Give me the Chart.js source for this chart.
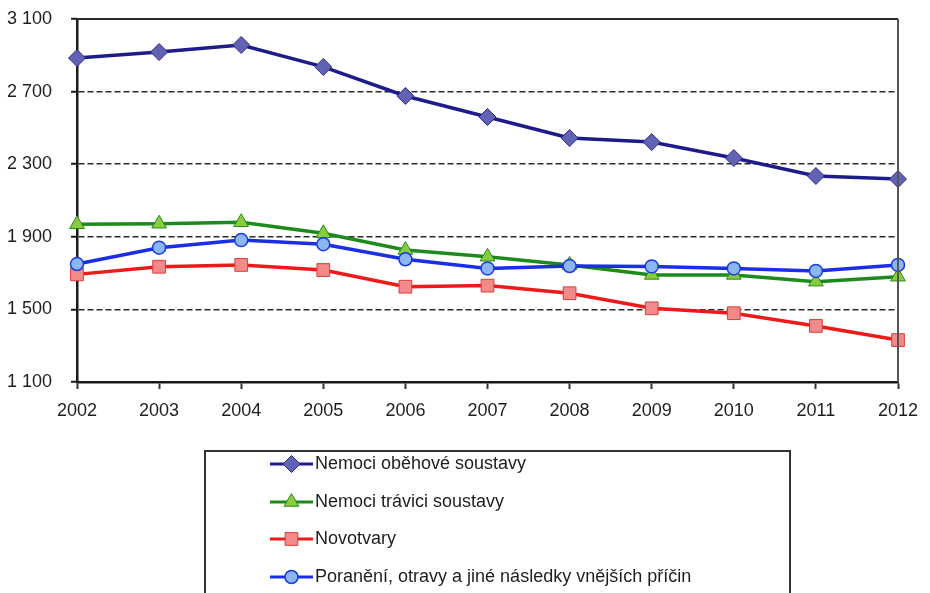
<!DOCTYPE html>
<html lang="cs">
<head>
<meta charset="utf-8">
<title>Zemřelí podle skupin příčin smrti 2002–2012</title>
<script src="https://cdn.jsdelivr.net/npm/chart.js@4/dist/chart.umd.min.js"></script>
<style>
  html, body { margin: 0; padding: 0; background: #ffffff; }
  #wrap { width: 930px; height: 593px; position: relative; }
</style>
</head>
<body>
<div id="wrap"><canvas id="chart" width="930" height="593"></canvas></div>
<script>
// Roky
const years = ['2002', '2003', '2004', '2005', '2006', '2007', '2008', '2009', '2010', '2011', '2012'];

// Počty zemřelých podle skupin příčin
const circulatory = [2885, 2918, 2957, 2836, 2676, 2560, 2444, 2422, 2334, 2235, 2218];
const digestive   = [1969, 1972, 1980, 1919, 1827, 1790, 1745, 1690, 1690, 1653, 1680];
const neoplasms   = [1693, 1735, 1745, 1717, 1625, 1631, 1589, 1506, 1479, 1409, 1331];
const injuries    = [1750, 1840, 1882, 1859, 1776, 1726, 1739, 1737, 1726, 1712, 1745];

// Názvy řad
const seriesNames = [
  'Nemoci oběhové soustavy',
  'Nemoci trávici soustavy',
  'Novotvary',
  'Poranění, otravy a jiné následky vnějších příčin'
];

// Osa Y
const yMin = 1100;
const yMax = 3100;
const yStep = 400;

const FONT = '"Liberation Sans", Arial, sans-serif';

// Rámeček grafu: horní a pravá hrana
const framePlugin = {
  id: 'frame',
  afterDatasetsDraw(chart) {
    const { ctx, chartArea: a } = chart;
    ctx.save();
    ctx.strokeStyle = '#2a2a2a';
    ctx.lineWidth = 2;
    ctx.beginPath();
    ctx.moveTo(a.left, a.top);
    ctx.lineTo(a.right, a.top);
    ctx.stroke();
    ctx.strokeStyle = '#555555';
    ctx.beginPath();
    ctx.moveTo(a.right, a.top);
    ctx.lineTo(a.right, a.bottom);
    ctx.stroke();
    ctx.restore();
  }
};

// Legenda v rámečku pod grafem, položky pod sebou
const boxLegendPlugin = {
  id: 'boxLegend',
  afterDraw(chart) {
    const { ctx } = chart;
    const box = { x: 205, y: 451, w: 585, h: 200 };
    ctx.save();
    ctx.strokeStyle = '#333333';
    ctx.lineWidth = 2;
    ctx.strokeRect(box.x, box.y, box.w, box.h);

    const rowY = [464, 502, 539, 577];
    const x0 = 270, x1 = 313;
    chart.data.datasets.forEach((ds, i) => {
      const y = rowY[i];
      ctx.strokeStyle = ds.borderColor;
      ctx.lineWidth = 3;
      ctx.beginPath();
      ctx.moveTo(x0, y);
      ctx.lineTo(x1, y);
      ctx.stroke();

      ctx.fillStyle = ds.pointBackgroundColor;
      ctx.strokeStyle = ds.pointBorderColor;
      ctx.lineWidth = ds.pointBorderWidth;
      Chart.helpers.drawPoint(ctx, {
        pointStyle: ds.pointStyle,
        radius: ds.pointRadius,
        rotation: 0,
        borderWidth: ds.pointBorderWidth
      }, (x0 + x1) / 2, y);

      ctx.fillStyle = '#1e1e1e';
      ctx.font = '18px ' + FONT;
      ctx.textBaseline = 'middle';
      ctx.textAlign = 'left';
      ctx.fillText(ds.label, x1 + 2, y);
    });
    ctx.restore();
  }
};

const fmt = v => {
  const s = String(v);
  return s.length > 3 ? s.slice(0, s.length - 3) + ' ' + s.slice(-3) : s;
};

new Chart(document.getElementById('chart'), {
  type: 'line',
  data: {
    labels: years,
    datasets: [
      {
        label: seriesNames[0],
        data: circulatory,
        borderColor: '#1e1c8a',
        borderWidth: 3.5,
        pointStyle: 'rectRot',
        pointRadius: 8.5,
        pointBackgroundColor: '#6262b4',
        pointBorderColor: '#2c2c86',
        pointBorderWidth: 1,
        order: 1
      },
      {
        label: seriesNames[1],
        data: digestive,
        borderColor: '#1d8a1d',
        borderWidth: 3.5,
        pointStyle: 'triangle',
        pointRadius: 8.5,
        pointBackgroundColor: '#86cc3c',
        pointBorderColor: '#2a8a1e',
        pointBorderWidth: 1,
        order: 1
      },
      {
        label: seriesNames[2],
        data: neoplasms,
        borderColor: '#ee1a1a',
        borderWidth: 3.5,
        pointStyle: 'rect',
        pointRadius: 9,
        pointBackgroundColor: '#f28a8a',
        pointBorderColor: '#e23a3a',
        pointBorderWidth: 1,
        order: 1
      },
      {
        label: seriesNames[3],
        data: injuries,
        borderColor: '#1a2ee6',
        borderWidth: 3.5,
        pointStyle: 'circle',
        pointRadius: 6.5,
        pointBackgroundColor: '#8cb6f2',
        pointBorderColor: '#1a3ae0',
        pointBorderWidth: 1.5,
        order: 0
      }
    ]
  },
  options: {
    responsive: false,
    animation: false,
    devicePixelRatio: 1,
    layout: { padding: { top: 19, right: 32, left: 0, bottom: 0 } },
    plugins: {
      legend: { display: false },
      tooltip: { enabled: false }
    },
    elements: { line: { tension: 0 } },
    scales: {
      x: {
        type: 'category',
        offset: false,
        afterFit(scale) { scale.height = 211; },
        grid: {
          drawOnChartArea: false,
          drawTicks: true,
          tickLength: 7,
          tickColor: '#333333',
          tickWidth: 2
        },
        border: { display: true, color: '#1a1a1a', width: 2.5 },
        ticks: {
          color: '#1e1e1e',
          font: { family: FONT, size: 18 },
          padding: 11,
          maxRotation: 0,
          autoSkip: false
        }
      },
      y: {
        min: yMin,
        max: yMax,
        afterFit(scale) {
          scale.width = 77;
          scale.paddingTop = 0;
          scale.paddingBottom = 0;
        },
        grid: {
          color: '#2a2a2a',
          lineWidth: 1.5,
          drawTicks: true,
          tickLength: 6,
          tickColor: '#1a1a1a',
          tickWidth: 2,
          tickBorderDash: []
        },
        border: { display: true, color: '#1a1a1a', width: 2.5, dash: [6, 3] },
        ticks: {
          stepSize: yStep,
          color: '#1e1e1e',
          font: { family: FONT, size: 18 },
          padding: 19,
          callback: v => fmt(v)
        }
      }
    }
  },
  plugins: [framePlugin, boxLegendPlugin]
});
</script>
</body>
</html>
